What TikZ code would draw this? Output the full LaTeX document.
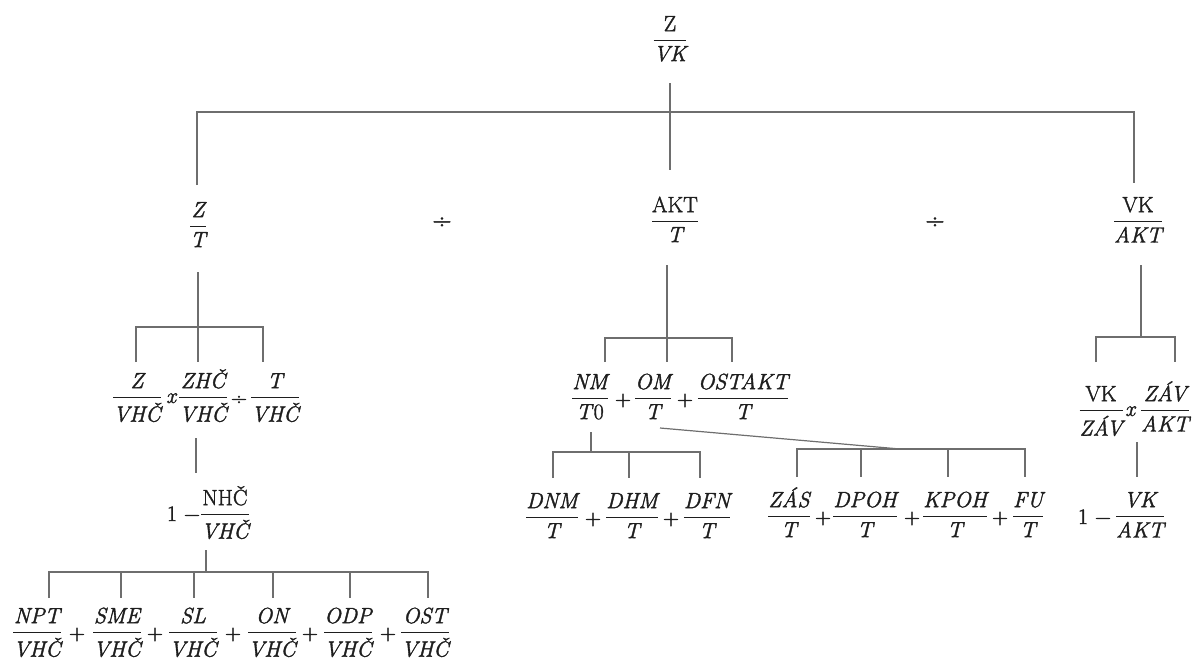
\RequirePackage{fix-cm}
\documentclass[tikz,border=0pt]{standalone}
\usepackage{amsmath}
\usepackage{fontspec}
\setmainfont{Latin Modern Roman}[FakeBold=1.6]
\definecolor{ink}{HTML}{1E1E1E}
\definecolor{wire}{HTML}{6E6E6E}
\newcommand{\fr}[2]{$\genfrac{}{}{1.5pt}{0}{\text{#1}}{\text{#2}}$}
\newcommand{\up}[1]{\textup{#1}}
\begin{document}
\begin{tikzpicture}[x=1pt,y=-1pt,
  tx/.style={inner sep=0pt, anchor=base, font=\itshape\fontsize{22}{26}\selectfont, text=ink},
  op/.style={inner sep=0pt, anchor=base, font=\upshape\fontsize{22}{26}\selectfont, text=ink},
  dv/.style={inner sep=0pt, anchor=center, font=\upshape\fontsize{27}{30}\selectfont, text=ink},
  conn/.style={draw=wire, line width=1.2pt}]
\useasboundingbox (0,0) rectangle (1198,664);

% ---------- level 0 / 1
\node[tx] (zvk) at (670,46) {\fr{\up{Z}}{VK}};
\node[tx] (zt)  at (198,232) {\fr{Z}{T}};
\node[dv] (d1)  at (442,223) {÷};
\node[tx] (akt) at (675,227) {\fr{\up{AKT}}{T}};
\node[dv] (d2)  at (935,223) {÷};
\node[tx] (vka) at (1138,227) {\fr{\up{VK}}{AKT}};

% ---------- left branch
\node[tx] (a1) at (137,403) {\fr{Z}{VHČ}};
\node[tx] (ax) at (171,403) {x};
\node[tx] (a2) at (203,403) {\fr{ZHČ}{VHČ}};
\node[op] (ad) at (239,405) {÷};
\node[tx] (a3) at (275,403) {\fr{T}{VHČ}};

\node[op] (b1) at (172,521) {1};
\node[op] (bm) at (192,521) {−};
\node[tx] (b2) at (225,520) {\fr{\up{NHČ}}{VHČ}};

\node[tx] (c1) at (37,638)  {\fr{NPT}{VHČ}};
\node[op] (cp1) at (77,640) {+};
\node[tx] (c2) at (117,638) {\fr{SME}{VHČ}};
\node[op] (cp2) at (155,640) {+};
\node[tx] (c3) at (193,638) {\fr{SL}{VHČ}};
\node[op] (cp3) at (233,640) {+};
\node[tx] (c4) at (272,638) {\fr{ON}{VHČ}};
\node[op] (cp4) at (310,640) {+};
\node[tx] (c5) at (348,638) {\fr{ODP}{VHČ}};
\node[op] (cp5) at (388,640) {+};
\node[tx] (c6) at (425,638) {\fr{OST}{VHČ}};

% ---------- middle branch
\node[tx] (m1) at (590,404) {\fr{NM}{T\up{0}}};
\node[op] (mp1) at (623,406) {+};
\node[tx] (m2) at (653,404) {\fr{OM}{T}};
\node[op] (mp2) at (685,406) {+};
\node[tx] (m3) at (743,404) {\fr{OSTAKT}{T}};

\node[tx] (n1) at (552,523) {\fr{DNM}{T}};
\node[op] (np1) at (593,525) {+};
\node[tx] (n2) at (632,523) {\fr{DHM}{T}};
\node[op] (np2) at (671,525) {+};
\node[tx] (n3) at (707,523) {\fr{DFN}{T}};

\node[tx] (q1) at (789,522) {\fr{ZÁS}{T}};
\node[op] (qp1) at (823,524) {+};
\node[tx] (q2) at (865,522) {\fr{DPOH}{T}};
\node[op] (qp2) at (912,524) {+};
\node[tx] (q3) at (955,522) {\fr{KPOH}{T}};
\node[op] (qp3) at (1000,524) {+};
\node[tx] (q4) at (1028,522) {\fr{FU}{T}};

% ---------- right branch
\node[tx] (r1) at (1101,416) {\fr{\up{VK}}{ZÁV}};
\node[tx] (rx) at (1130,416) {x};
\node[tx] (r2) at (1165,416) {\fr{ZÁV}{AKT}};

\node[op] (s1) at (1083,524) {1};
\node[op] (sm) at (1103,524) {−};
\node[tx] (s2) at (1140,522) {\fr{VK}{AKT}};

% ---------- connector coordinates
\coordinate (t0) at (670,83);   \coordinate (t2) at (670,170);
\coordinate (tl) at (197,112);  \coordinate (tl2) at (197,185);
\coordinate (tr) at (1134,112); \coordinate (tr2) at (1134,183);

\coordinate (l0) at (198,272);  \coordinate (l2) at (198,362);
\coordinate (la) at (136,327);  \coordinate (la2) at (136,362);
\coordinate (lb) at (263,327);  \coordinate (lb2) at (263,362);
\coordinate (u0) at (196,438);  \coordinate (u1) at (196,473);
\coordinate (v0) at (206,550);  \coordinate (v1) at (206,572);
\coordinate (w1) at (49,572);   \coordinate (w1b) at (49,598);
\coordinate (w6) at (428,572);  \coordinate (w6b) at (428,598);

\coordinate (g0) at (667,265);  \coordinate (g2) at (667,362);
\coordinate (ga) at (605,338);  \coordinate (ga2) at (605,362);
\coordinate (gb) at (732,338);  \coordinate (gb2) at (732,362);
\coordinate (h0) at (591,432);  \coordinate (h1) at (591,452);
\coordinate (ha) at (553,452);  \coordinate (ha2) at (553,478);
\coordinate (hc) at (700,452);  \coordinate (hc2) at (700,478);
\coordinate (k0) at (660,428);  \coordinate (k1) at (900,449);
\coordinate (ka) at (797,449);  \coordinate (ka2) at (797,477);
\coordinate (kd) at (1025,449); \coordinate (kd2) at (1025,477);

\coordinate (e0) at (1141,265); \coordinate (e1) at (1141,337);
\coordinate (ea) at (1096,337); \coordinate (ea2) at (1096,362);
\coordinate (eb) at (1175,337); \coordinate (eb2) at (1175,362);
\coordinate (f0) at (1137,442); \coordinate (f1) at (1137,477);

% ---------- connectors
\draw[conn] (t0) -- (t2);
\draw[conn] (tl2) -- (tl) -- (tr) -- (tr2);

\draw[conn] (l0) -- (l2);
\draw[conn] (la2) -- (la) -- (lb) -- (lb2);
\draw[conn] (u0) -- (u1);
\draw[conn] (v0) -- (v1);
\draw[conn] (w1b) -- (w1) -- (w6) -- (w6b);
\foreach \xx in {121,194,273,350}
  \draw[conn] (w1 -| \xx,0) -- (w1b -| \xx,0);

\draw[conn] (g0) -- (g2);
\draw[conn] (ga2) -- (ga) -- (gb) -- (gb2);
\draw[conn] (h0) -- (h1);
\draw[conn] (ha2) -- (ha) -- (hc) -- (hc2);
\draw[conn] (h1 -| 629,0) -- (ha2 -| 629,0);
\draw[conn] (k0) -- (k1);
\draw[conn] (ka2) -- (ka) -- (kd) -- (kd2);
\foreach \xx in {861,948}
  \draw[conn] (ka -| \xx,0) -- (ka2 -| \xx,0);

\draw[conn] (e0) -- (e1);
\draw[conn] (ea2) -- (ea) -- (eb) -- (eb2);
\draw[conn] (f0) -- (f1);
\end{tikzpicture}
\end{document}
